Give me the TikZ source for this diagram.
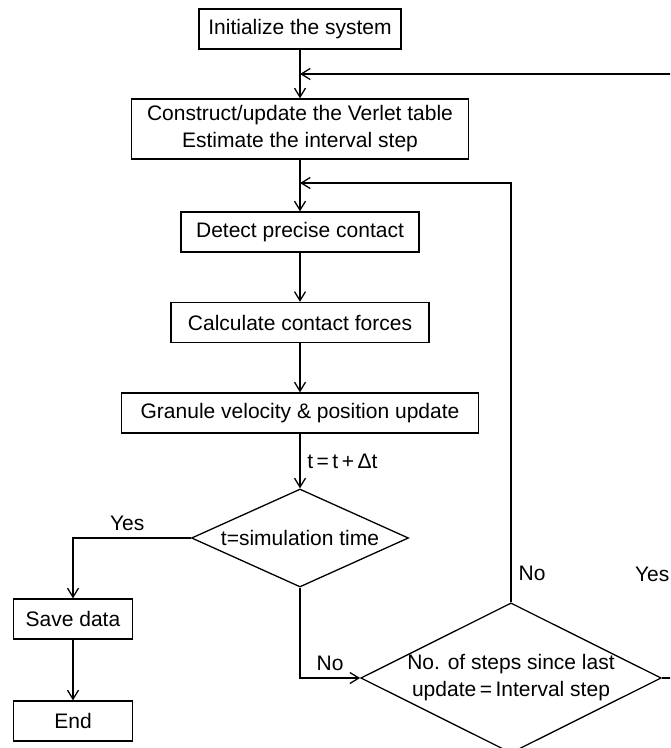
\documentclass[tikz,border=0pt]{standalone}
\usepackage{fontspec}
\setmainfont{Liberation Sans}
\usetikzlibrary{graphs,shapes.geometric,arrows.meta,quotes}

\begin{document}
\begin{tikzpicture}[x=0.5pt,y=-0.5pt,line width=0.65pt,
    >={Straight Barb[length=4.5pt,width=5.5pt]},
    every node/.style={font=\fontsize{10.5}{13.5}\selectfont},
    proc/.style={draw, rectangle, minimum height=20pt, inner sep=2pt, align=center},
    decision/.style={draw, diamond, inner sep=0pt, align=center}]
\useasboundingbox (0,0) rectangle (670,748);
\clip (0,0) rectangle (670,748);

\graph [no placement] {
  init/"Initialize the system"[proc, minimum width=101pt, x=300, y=29] ->
  verlet/"Construct/update the Verlet table\\Estimate the interval step"[proc, minimum width=168.5pt, minimum height=30pt, x=300, y=129] ->
  detect/"Detect precise contact"[proc, minimum width=119pt, x=300, y=232] ->
  forces/"Calculate contact forces"[proc, minimum width=129pt, x=300, y=322.5] ->
  granule/"Granule velocity \& position update"[proc, minimum width=178.5pt, x=300, y=413] ->[edge label={t\,=\,t\,+\,Δt}]
  dec1/"t=simulation time"[decision, aspect=2.2, minimum width=108.5pt, minimum height=49pt, x=300, y=538],
  savedata/"Save data"[proc, minimum width=59.5pt, x=73, y=619] ->
  stop/"End"[proc, minimum width=59.5pt, x=73, y=721],
  dec2/"No. of steps since last\\update\,=\,Interval step"[decision, aspect=2, minimum width=150pt, minimum height=75pt, x=511, y=678]
};

\coordinate (join1) at (300,74);
\coordinate (join2) at (300,183);
\draw[->] (dec1.west) -| node[pos=.27, above]{Yes} (savedata.north);
\draw[->] (dec1.south) |- node[pos=.75, above]{No} (dec2.west);
\draw[->] (dec2.north) |- node[pos=.034, right, inner sep=3.5pt]{No} (join2);
\draw[->] (dec2.east) -- ++(16,0) |- node[pos=.086, left, inner sep=4pt]{Yes} (join1);
\end{tikzpicture}
\end{document}
